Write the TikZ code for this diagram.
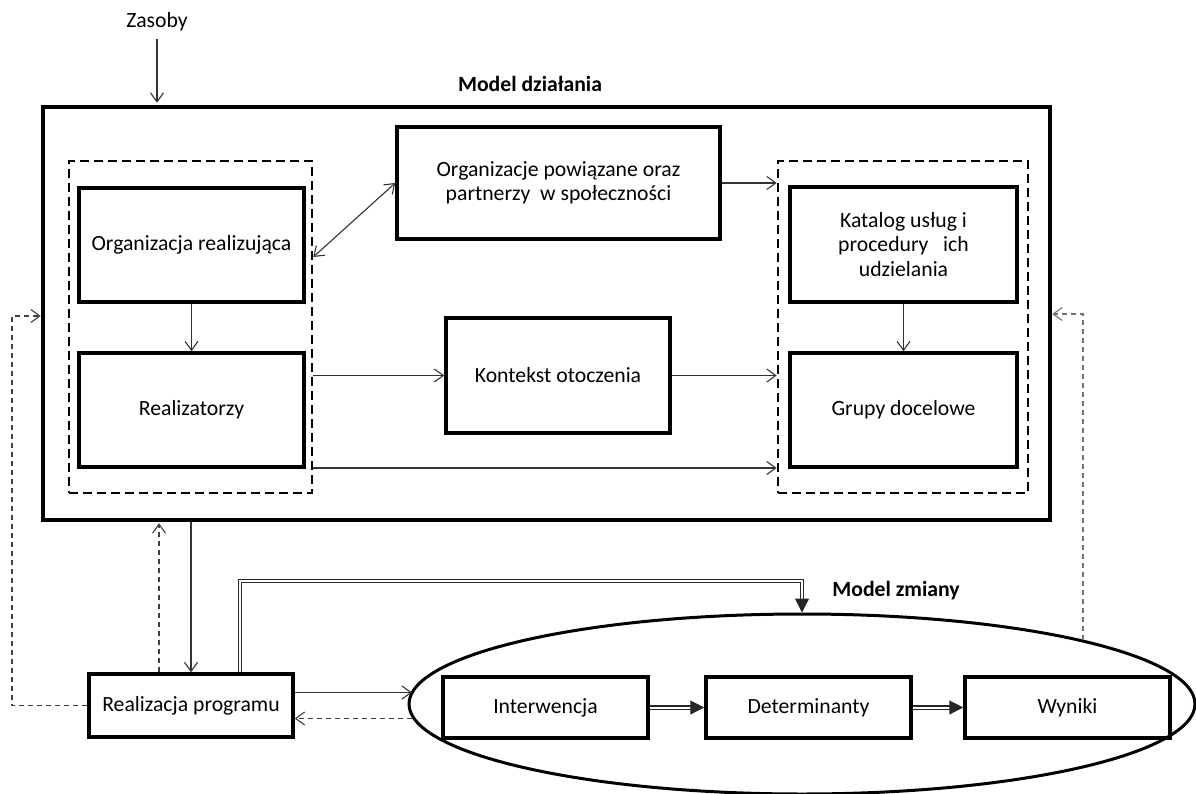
\documentclass[tikz,border=0pt]{standalone}
\usepackage{fontspec}
\setmainfont{Carlito}
\usetikzlibrary{arrows.meta,shapes.geometric,calc}
\begin{document}
\begin{tikzpicture}[x=1pt,y=-1pt,
  every node/.style={font=\fontsize{21.7}{24.5}\selectfont, text=black},
  bold/.style={font=\fontsize{21.7}{24.5}\selectfont\bfseries},
  box/.style={draw, line width=3.5pt, rectangle, inner sep=0pt, align=center},
  mainbox/.style={draw, line width=4.5pt, rectangle, inner sep=0pt},
  dbox/.style={draw, line width=2.6pt, dash pattern=on 9pt off 5pt, rectangle, inner sep=0pt},
  tipo/.tip={Straight Barb[length=9pt,width=13pt]},
  arr/.style={draw=black!80, line width=1.1pt, -tipo},
  arrb/.style={draw=black!80, line width=1.1pt, tipo-tipo},
  dsh/.style={draw=black!75, line width=1.1pt, dash pattern=on 5pt off 4pt, -tipo},
  dbl/.style={draw=black!85, line width=1.1pt, double, double distance=2pt, -{Triangle[length=14pt,width=14pt]}},
]
\useasboundingbox (0,0) rectangle (1196,794);

% --- Model działania ---
\node (zas) at (157,22) {Zasoby};
\node[bold] (mdt) at (530,84) {Model działania};
\node[mainbox, minimum width=1007pt, minimum height=413pt] (main) at (546.5,313.5) {};
\node[dbox, minimum width=243pt, minimum height=332pt] (ldash) at (190.5,327) {};
\node[dbox, minimum width=250pt, minimum height=332pt] (rdash) at (903,327) {};
\node[box, minimum width=225pt, minimum height=114pt] (org) at (191.5,245) {Organizacja realizująca};
\node[box, minimum width=225pt, minimum height=114pt] (real) at (191.5,410) {Realizatorzy};
\node[box, minimum width=323pt, minimum height=112pt] (orgp) at (558.5,183) {Organizacje powiązane oraz\\partnerzy\ \ w społeczności};
\node[box, minimum width=227pt, minimum height=115pt] (kat) at (903.5,244.5) {Katalog usług i\\procedury\ \ \ ich\\udzielania};
\node[box, minimum width=227pt, minimum height=114pt] (grup) at (903.5,410) {Grupy docelowe};
\node[box, minimum width=224pt, minimum height=115pt] (kont) at (558,375.5) {Kontekst otoczenia};

% --- Realizacja programu & Model zmiany ---
\node[box, minimum width=204pt, minimum height=63pt] (realp) at (191,705.5) {Realizacja programu};
\node[ellipse, draw, line width=3pt, minimum width=786pt, minimum height=180pt, inner sep=0pt] (ell) at (802,704) {};
\node[bold] (mzm) at (896,591) {Model zmiany};
\node[box, minimum width=205pt, minimum height=61pt] (int) at (545.5,707.5) {Interwencja};
\node[box, minimum width=205pt, minimum height=61pt] (det) at (808.5,707.5) {Determinanty};
\node[box, minimum width=205pt, minimum height=61pt] (wyn) at (1067.5,707.5) {Wyniki};

% --- connectors inside the model ---
\draw[arr, shorten <=4pt, shorten >=2pt] (zas.south) -- (zas.south |- main.north);
\draw[arrb] ([yshift=70pt]ldash.east) -- (orgp.west);
\draw[arr] (orgp.east) -- (rdash.west |- orgp.east);
\draw[arr] (org.south) -- (real.north);
\draw[arr] (ldash.east |- kont.west) -- (kont.west);
\draw[arr] (kont.east) -- (rdash.west |- kont.east);
\draw[arr] ([yshift=-141pt]ldash.east) -- ([yshift=-141pt]rdash.west);
\draw[arr] (kat.south) -- (grup.north);

% --- between the model and the programme ---
\draw[arr] (main.south -| realp.north) -- (realp.north);
\coordinate (rpn) at ([xshift=-32pt]realp.north);
\draw[dsh, shorten >=1pt] (rpn) -- (rpn |- main.south);
\coordinate (lfb) at (12,316);
\draw[dsh] (realp.west) -| (lfb) -- (main.west |- lfb);
\coordinate (rfb0) at (1083,640);
\coordinate (rfb) at (1083,314);
\draw[dsh, draw=black!55] (rfb0) -- (rfb) -- (main.east |- rfb);

% --- programme and model of change ---
\coordinate (ra) at ([yshift=13pt]realp.east);
\draw[arr] (ra) -- (ell.178 |- ra);
\coordinate (rb) at ([yshift=-13pt]realp.east);
\draw[dsh] (ell.182 |- rb) -- (rb);
\coordinate (dstart) at ([xshift=49pt]realp.north);
\coordinate (dc) at (802,581);
\draw[dbl] (dstart) |- (dc) -- (ell.north);
\draw[dbl] (int.east) -- (det.west);
\draw[dbl] (det.east) -- (wyn.west);
\end{tikzpicture}
\end{document}
